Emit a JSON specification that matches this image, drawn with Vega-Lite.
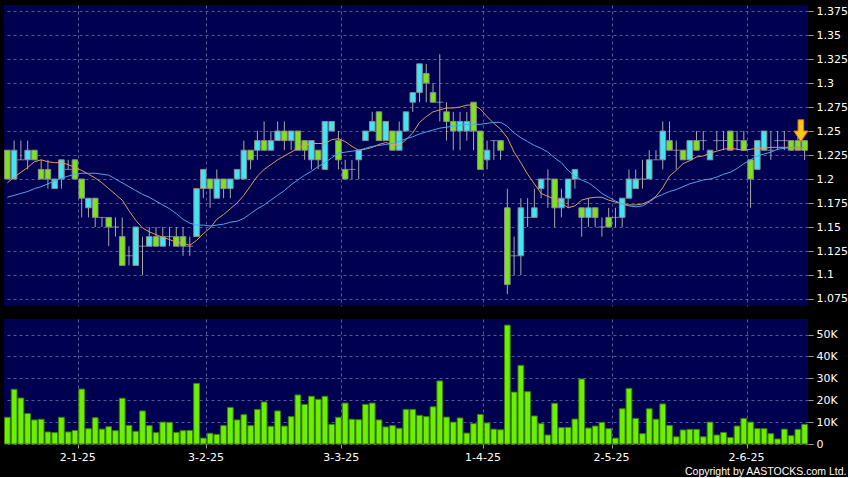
{
 "$schema": "https://vega.github.io/schema/vega-lite/v6.json",
 "background": "#000000",
 "padding": {"left": 4, "top": 5, "right": 0, "bottom": 0},
 "spacing": 13,
 "config": {
  "view": {"fill": "#000050", "stroke": null},
  "axis": {"domain": false, "labelColor": "#FFFFFF", "labelFont": "DejaVu Sans", "labelFontSize": 11, "labelOverlap": false, "tickColor": "#9A9A9A", "gridColor": "#5A5A96", "gridDash": [3, 3], "gridWidth": 1}
 },
 "data": {"values": [
  {"d":"13-12-24","o":1.23,"h":1.23,"l":1.20,"c":1.20,"v":12200,"m1":1.196,"m2":1.181},
  {"d":"16-12-24","o":1.20,"h":1.24,"l":1.20,"c":1.23,"v":25000,"m1":1.202,"m2":1.183},
  {"d":"17-12-24","o":1.22,"h":1.24,"l":1.22,"c":1.22,"v":21000,"m1":1.207,"m2":1.185},
  {"d":"18-12-24","o":1.22,"h":1.24,"l":1.21,"c":1.23,"v":13900,"m1":1.212,"m2":1.187},
  {"d":"19-12-24","o":1.23,"h":1.23,"l":1.22,"c":1.22,"v":11000,"m1":1.218,"m2":1.190},
  {"d":"20-12-24","o":1.21,"h":1.22,"l":1.20,"c":1.20,"v":11300,"m1":1.220,"m2":1.192},
  {"d":"23-12-24","o":1.21,"h":1.22,"l":1.19,"c":1.20,"v":5500,"m1":1.218,"m2":1.195},
  {"d":"24-12-24","o":1.19,"h":1.20,"l":1.19,"c":1.20,"v":5200,"m1":1.217,"m2":1.198},
  {"d":"27-12-24","o":1.20,"h":1.22,"l":1.19,"c":1.22,"v":12200,"m1":1.217,"m2":1.201},
  {"d":"30-12-24","o":1.21,"h":1.22,"l":1.21,"c":1.21,"v":5500,"m1":1.215,"m2":1.203},
  {"d":"31-12-24","o":1.22,"h":1.22,"l":1.20,"c":1.20,"v":6200,"m1":1.212,"m2":1.205},
  {"d":"2-1-25","o":1.20,"h":1.20,"l":1.16,"c":1.18,"v":25100,"m1":1.209,"m2":1.206},
  {"d":"3-1-25","o":1.17,"h":1.18,"l":1.16,"c":1.18,"v":7000,"m1":1.205,"m2":1.206},
  {"d":"6-1-25","o":1.18,"h":1.18,"l":1.15,"c":1.16,"v":12000,"m1":1.201,"m2":1.206},
  {"d":"7-1-25","o":1.16,"h":1.16,"l":1.15,"c":1.16,"v":6800,"m1":1.196,"m2":1.205},
  {"d":"8-1-25","o":1.16,"h":1.16,"l":1.13,"c":1.15,"v":7900,"m1":1.190,"m2":1.204},
  {"d":"9-1-25","o":1.15,"h":1.16,"l":1.14,"c":1.15,"v":6100,"m1":1.184,"m2":1.200},
  {"d":"10-1-25","o":1.14,"h":1.16,"l":1.11,"c":1.11,"v":20900,"m1":1.178,"m2":1.196},
  {"d":"13-1-25","o":1.12,"h":1.13,"l":1.11,"c":1.12,"v":8500,"m1":1.167,"m2":1.192},
  {"d":"14-1-25","o":1.11,"h":1.15,"l":1.11,"c":1.15,"v":5800,"m1":1.157,"m2":1.188},
  {"d":"15-1-25","o":1.13,"h":1.14,"l":1.10,"c":1.13,"v":15100,"m1":1.149,"m2":1.184},
  {"d":"16-1-25","o":1.13,"h":1.15,"l":1.13,"c":1.14,"v":8400,"m1":1.145,"m2":1.181},
  {"d":"17-1-25","o":1.14,"h":1.15,"l":1.13,"c":1.13,"v":5200,"m1":1.142,"m2":1.177},
  {"d":"20-1-25","o":1.13,"h":1.15,"l":1.13,"c":1.14,"v":10000,"m1":1.139,"m2":1.173},
  {"d":"21-1-25","o":1.14,"h":1.15,"l":1.13,"c":1.14,"v":9900,"m1":1.137,"m2":1.169},
  {"d":"22-1-25","o":1.14,"h":1.15,"l":1.13,"c":1.13,"v":5300,"m1":1.134,"m2":1.164},
  {"d":"23-1-25","o":1.14,"h":1.15,"l":1.12,"c":1.13,"v":6100,"m1":1.133,"m2":1.158},
  {"d":"24-1-25","o":1.13,"h":1.14,"l":1.12,"c":1.13,"v":6200,"m1":1.131,"m2":1.154},
  {"d":"27-1-25","o":1.14,"h":1.19,"l":1.14,"c":1.19,"v":27700,"m1":1.136,"m2":1.152},
  {"d":"28-1-25","o":1.19,"h":1.21,"l":1.18,"c":1.21,"v":2700,"m1":1.143,"m2":1.152},
  {"d":"3-2-25","o":1.20,"h":1.20,"l":1.17,"c":1.19,"v":4900,"m1":1.149,"m2":1.151},
  {"d":"4-2-25","o":1.18,"h":1.21,"l":1.18,"c":1.20,"v":4400,"m1":1.158,"m2":1.152},
  {"d":"5-2-25","o":1.20,"h":1.20,"l":1.18,"c":1.19,"v":8400,"m1":1.163,"m2":1.153},
  {"d":"6-2-25","o":1.19,"h":1.20,"l":1.18,"c":1.20,"v":16700,"m1":1.169,"m2":1.155},
  {"d":"7-2-25","o":1.20,"h":1.21,"l":1.20,"c":1.21,"v":11000,"m1":1.175,"m2":1.156},
  {"d":"10-2-25","o":1.20,"h":1.24,"l":1.20,"c":1.23,"v":13400,"m1":1.183,"m2":1.159},
  {"d":"11-2-25","o":1.23,"h":1.23,"l":1.21,"c":1.22,"v":8400,"m1":1.193,"m2":1.164},
  {"d":"12-2-25","o":1.23,"h":1.25,"l":1.22,"c":1.24,"v":15800,"m1":1.203,"m2":1.169},
  {"d":"13-2-25","o":1.24,"h":1.26,"l":1.23,"c":1.23,"v":19200,"m1":1.210,"m2":1.173},
  {"d":"14-2-25","o":1.23,"h":1.25,"l":1.23,"c":1.24,"v":8100,"m1":1.215,"m2":1.178},
  {"d":"17-2-25","o":1.24,"h":1.26,"l":1.24,"c":1.25,"v":15100,"m1":1.220,"m2":1.183},
  {"d":"18-2-25","o":1.25,"h":1.26,"l":1.23,"c":1.24,"v":8200,"m1":1.224,"m2":1.188},
  {"d":"19-2-25","o":1.24,"h":1.25,"l":1.23,"c":1.25,"v":12500,"m1":1.228,"m2":1.194},
  {"d":"20-2-25","o":1.25,"h":1.25,"l":1.23,"c":1.23,"v":22400,"m1":1.232,"m2":1.199},
  {"d":"21-2-25","o":1.24,"h":1.24,"l":1.22,"c":1.23,"v":18100,"m1":1.235,"m2":1.204},
  {"d":"24-2-25","o":1.22,"h":1.24,"l":1.21,"c":1.24,"v":21800,"m1":1.237,"m2":1.208},
  {"d":"25-2-25","o":1.23,"h":1.23,"l":1.21,"c":1.22,"v":20400,"m1":1.237,"m2":1.213},
  {"d":"26-2-25","o":1.21,"h":1.26,"l":1.21,"c":1.26,"v":21800,"m1":1.237,"m2":1.217},
  {"d":"27-2-25","o":1.25,"h":1.26,"l":1.25,"c":1.26,"v":9000,"m1":1.241,"m2":1.222},
  {"d":"28-2-25","o":1.24,"h":1.25,"l":1.21,"c":1.22,"v":12200,"m1":1.242,"m2":1.227},
  {"d":"3-3-25","o":1.21,"h":1.22,"l":1.20,"c":1.20,"v":18700,"m1":1.239,"m2":1.228},
  {"d":"4-3-25","o":1.21,"h":1.22,"l":1.20,"c":1.21,"v":11300,"m1":1.234,"m2":1.229},
  {"d":"5-3-25","o":1.22,"h":1.23,"l":1.20,"c":1.23,"v":11100,"m1":1.230,"m2":1.230},
  {"d":"6-3-25","o":1.24,"h":1.25,"l":1.24,"c":1.25,"v":18100,"m1":1.231,"m2":1.232},
  {"d":"7-3-25","o":1.25,"h":1.27,"l":1.25,"c":1.26,"v":18700,"m1":1.233,"m2":1.234},
  {"d":"10-3-25","o":1.27,"h":1.27,"l":1.24,"c":1.24,"v":11000,"m1":1.236,"m2":1.235},
  {"d":"11-3-25","o":1.24,"h":1.26,"l":1.24,"c":1.26,"v":7800,"m1":1.238,"m2":1.236},
  {"d":"12-3-25","o":1.25,"h":1.25,"l":1.23,"c":1.23,"v":8400,"m1":1.236,"m2":1.237},
  {"d":"13-3-25","o":1.23,"h":1.26,"l":1.23,"c":1.25,"v":7200,"m1":1.235,"m2":1.239},
  {"d":"14-3-25","o":1.25,"h":1.27,"l":1.25,"c":1.27,"v":15800,"m1":1.241,"m2":1.242},
  {"d":"17-3-25","o":1.28,"h":1.29,"l":1.27,"c":1.29,"v":15800,"m1":1.248,"m2":1.244},
  {"d":"18-3-25","o":1.29,"h":1.32,"l":1.28,"c":1.32,"v":13100,"m1":1.259,"m2":1.247},
  {"d":"19-3-25","o":1.31,"h":1.32,"l":1.28,"c":1.30,"v":12500,"m1":1.265,"m2":1.249},
  {"d":"20-3-25","o":1.29,"h":1.30,"l":1.28,"c":1.28,"v":17000,"m1":1.270,"m2":1.251},
  {"d":"21-3-25","o":1.28,"h":1.33,"l":1.26,"c":1.28,"v":28800,"m1":1.272,"m2":1.253},
  {"d":"24-3-25","o":1.27,"h":1.28,"l":1.24,"c":1.26,"v":12300,"m1":1.274,"m2":1.254},
  {"d":"25-3-25","o":1.26,"h":1.27,"l":1.23,"c":1.25,"v":10000,"m1":1.274,"m2":1.255},
  {"d":"26-3-25","o":1.25,"h":1.27,"l":1.23,"c":1.26,"v":11900,"m1":1.275,"m2":1.256},
  {"d":"27-3-25","o":1.25,"h":1.27,"l":1.24,"c":1.26,"v":5000,"m1":1.277,"m2":1.257},
  {"d":"28-3-25","o":1.28,"h":1.28,"l":1.23,"c":1.25,"v":9300,"m1":1.277,"m2":1.257},
  {"d":"31-3-25","o":1.25,"h":1.25,"l":1.21,"c":1.21,"v":13500,"m1":1.273,"m2":1.257},
  {"d":"1-4-25","o":1.22,"h":1.24,"l":1.21,"c":1.23,"v":9600,"m1":1.265,"m2":1.258},
  {"d":"2-4-25","o":1.24,"h":1.24,"l":1.22,"c":1.24,"v":6800,"m1":1.258,"m2":1.259},
  {"d":"3-4-25","o":1.24,"h":1.24,"l":1.22,"c":1.23,"v":6500,"m1":1.252,"m2":1.259},
  {"d":"7-4-25","o":1.17,"h":1.19,"l":1.08,"c":1.09,"v":54300,"m1":1.243,"m2":1.255},
  {"d":"8-4-25","o":1.12,"h":1.14,"l":1.10,"c":1.12,"v":23700,"m1":1.228,"m2":1.248},
  {"d":"9-4-25","o":1.12,"h":1.18,"l":1.10,"c":1.17,"v":35900,"m1":1.217,"m2":1.243},
  {"d":"10-4-25","o":1.16,"h":1.18,"l":1.15,"c":1.16,"v":23900,"m1":1.205,"m2":1.239},
  {"d":"11-4-25","o":1.16,"h":1.19,"l":1.16,"c":1.17,"v":12800,"m1":1.195,"m2":1.235},
  {"d":"14-4-25","o":1.19,"h":1.20,"l":1.18,"c":1.20,"v":9300,"m1":1.185,"m2":1.232},
  {"d":"15-4-25","o":1.20,"h":1.21,"l":1.17,"c":1.20,"v":4100,"m1":1.182,"m2":1.228},
  {"d":"16-4-25","o":1.20,"h":1.20,"l":1.15,"c":1.17,"v":18600,"m1":1.179,"m2":1.222},
  {"d":"17-4-25","o":1.17,"h":1.19,"l":1.16,"c":1.18,"v":7500,"m1":1.175,"m2":1.217},
  {"d":"22-4-25","o":1.18,"h":1.20,"l":1.17,"c":1.20,"v":7600,"m1":1.170,"m2":1.209},
  {"d":"23-4-25","o":1.20,"h":1.21,"l":1.19,"c":1.21,"v":11400,"m1":1.172,"m2":1.203},
  {"d":"24-4-25","o":1.17,"h":1.17,"l":1.14,"c":1.16,"v":29700,"m1":1.178,"m2":1.199},
  {"d":"25-4-25","o":1.16,"h":1.18,"l":1.15,"c":1.17,"v":7300,"m1":1.180,"m2":1.196},
  {"d":"28-4-25","o":1.17,"h":1.17,"l":1.15,"c":1.16,"v":8200,"m1":1.181,"m2":1.191},
  {"d":"29-4-25","o":1.15,"h":1.16,"l":1.14,"c":1.15,"v":9900,"m1":1.181,"m2":1.185},
  {"d":"30-4-25","o":1.16,"h":1.17,"l":1.15,"c":1.15,"v":7000,"m1":1.178,"m2":1.181},
  {"d":"2-5-25","o":1.16,"h":1.17,"l":1.15,"c":1.16,"v":2700,"m1":1.176,"m2":1.177},
  {"d":"6-5-25","o":1.16,"h":1.18,"l":1.15,"c":1.18,"v":16100,"m1":1.174,"m2":1.174},
  {"d":"7-5-25","o":1.18,"h":1.21,"l":1.18,"c":1.20,"v":25400,"m1":1.173,"m2":1.172},
  {"d":"8-5-25","o":1.19,"h":1.21,"l":1.19,"c":1.20,"v":11700,"m1":1.173,"m2":1.171},
  {"d":"9-5-25","o":1.20,"h":1.22,"l":1.19,"c":1.20,"v":4700,"m1":1.174,"m2":1.172},
  {"d":"12-5-25","o":1.20,"h":1.23,"l":1.20,"c":1.22,"v":16100,"m1":1.177,"m2":1.176},
  {"d":"13-5-25","o":1.22,"h":1.23,"l":1.22,"c":1.22,"v":11300,"m1":1.182,"m2":1.181},
  {"d":"14-5-25","o":1.22,"h":1.26,"l":1.21,"c":1.25,"v":18300,"m1":1.191,"m2":1.184},
  {"d":"15-5-25","o":1.24,"h":1.26,"l":1.23,"c":1.23,"v":8500,"m1":1.203,"m2":1.187},
  {"d":"16-5-25","o":1.23,"h":1.24,"l":1.21,"c":1.23,"v":3300,"m1":1.209,"m2":1.189},
  {"d":"19-5-25","o":1.23,"h":1.23,"l":1.22,"c":1.22,"v":6400,"m1":1.216,"m2":1.192},
  {"d":"20-5-25","o":1.22,"h":1.24,"l":1.22,"c":1.24,"v":6700,"m1":1.219,"m2":1.195},
  {"d":"21-5-25","o":1.24,"h":1.25,"l":1.23,"c":1.23,"v":6700,"m1":1.223,"m2":1.197},
  {"d":"22-5-25","o":1.24,"h":1.25,"l":1.23,"c":1.24,"v":3300,"m1":1.224,"m2":1.199},
  {"d":"23-5-25","o":1.22,"h":1.23,"l":1.22,"c":1.23,"v":10000,"m1":1.227,"m2":1.200},
  {"d":"26-5-25","o":1.24,"h":1.25,"l":1.23,"c":1.24,"v":4100,"m1":1.229,"m2":1.202},
  {"d":"27-5-25","o":1.24,"h":1.25,"l":1.23,"c":1.24,"v":5300,"m1":1.231,"m2":1.205},
  {"d":"28-5-25","o":1.25,"h":1.25,"l":1.23,"c":1.23,"v":3000,"m1":1.232,"m2":1.207},
  {"d":"29-5-25","o":1.24,"h":1.25,"l":1.23,"c":1.24,"v":8200,"m1":1.231,"m2":1.211},
  {"d":"30-5-25","o":1.24,"h":1.25,"l":1.23,"c":1.23,"v":11700,"m1":1.230,"m2":1.216},
  {"d":"2-6-25","o":1.22,"h":1.22,"l":1.17,"c":1.20,"v":10000,"m1":1.231,"m2":1.220},
  {"d":"3-6-25","o":1.21,"h":1.24,"l":1.21,"c":1.24,"v":7000,"m1":1.232,"m2":1.224},
  {"d":"4-6-25","o":1.23,"h":1.25,"l":1.23,"c":1.25,"v":7000,"m1":1.232,"m2":1.226},
  {"d":"5-6-25","o":1.23,"h":1.25,"l":1.22,"c":1.23,"v":4700,"m1":1.233,"m2":1.228},
  {"d":"6-6-25","o":1.24,"h":1.25,"l":1.23,"c":1.24,"v":2300,"m1":1.233,"m2":1.231},
  {"d":"9-6-25","o":1.24,"h":1.25,"l":1.23,"c":1.24,"v":6800,"m1":1.233,"m2":1.232},
  {"d":"10-6-25","o":1.24,"h":1.24,"l":1.23,"c":1.23,"v":3800,"m1":1.233,"m2":1.233},
  {"d":"11-6-25","o":1.24,"h":1.25,"l":1.23,"c":1.23,"v":6700,"m1":1.232,"m2":1.233},
  {"d":"12-6-25","o":1.24,"h":1.24,"l":1.22,"c":1.23,"v":9000,"m1":1.230,"m2":1.233}
 ]},
 "vconcat": [
  {
   "width": 804,
   "height": 301,
   "encoding": {
    "x": {"field": "d", "type": "ordinal", "sort": null, "scale": {"paddingInner": 0, "paddingOuter": 0},
     "axis": {"values": ["2-1-25", "3-2-25", "3-3-25", "1-4-25", "2-5-25", "2-6-25"], "bandPosition": 0, "labels": false, "ticks": false, "grid": true, "title": null}}
   },
   "layer": [
    {
     "mark": {"type": "rule", "color": "#A8A8A8", "strokeWidth": 1},
     "encoding": {
      "y": {"field": "l", "type": "quantitative", "scale": {"domain": [1.0677, 1.3813], "nice": false, "zero": false},
       "axis": {"orient": "right", "title": null, "values": [1.075, 1.1, 1.125, 1.15, 1.175, 1.2, 1.225, 1.25, 1.275, 1.3, 1.325, 1.35, 1.375], "tickCount": 30, "labelExpr": "toString(round(datum.value * 1000) / 1000)", "grid": true, "tickSize": 5, "labelPadding": 3, "labelOverlap": false, "labelBound": false, "labelFlush": false}},
      "y2": {"field": "h"}
     }
    },
    {
     "transform": [{"filter": "datum.o != datum.c"}],
     "mark": {"type": "bar", "width": {"band": 0.82}, "stroke": "#8C8C8C", "strokeWidth": 1},
     "encoding": {
      "y": {"field": "o", "type": "quantitative"},
      "y2": {"field": "c"},
      "fill": {"condition": {"test": "datum.c > datum.o", "value": "#3FE6F4"}, "value": "#7CE41E"}
     }
    },
    {
     "transform": [{"filter": "datum.o == datum.c"}],
     "mark": {"type": "tick", "color": "#B0B0B0", "thickness": 1, "size": 7},
     "encoding": {"y": {"field": "o", "type": "quantitative"}}
    },
    {
     "mark": {"type": "line", "color": "#E39A5C", "strokeWidth": 1},
     "encoding": {"y": {"field": "m1", "type": "quantitative"}}
    },
    {
     "mark": {"type": "line", "color": "#4EA6EA", "strokeWidth": 1},
     "encoding": {"y": {"field": "m2", "type": "quantitative"}}
    },
    {
     "transform": [{"filter": "datum.d == '11-6-25'"}],
     "mark": {"type": "point", "shape": "M-0.4,-1.6L0.4,-1.6L0.4,0L1,0L0,1.5L-1,0L-0.4,0Z", "size": 196, "filled": true, "fill": "#FFC61A", "stroke": "#D98200", "strokeWidth": 1, "opacity": 1, "xOffset": 3},
     "encoding": {"y": {"field": "h", "type": "quantitative"}}
    }
   ]
  },
  {
   "width": 804,
   "height": 125,
   "mark": {"type": "bar", "width": {"band": 0.85}, "fill": "#6CF000", "stroke": "#3B7F00", "strokeWidth": 1},
   "encoding": {
    "x": {"field": "d", "type": "ordinal", "sort": null, "scale": {"paddingInner": 0, "paddingOuter": 0},
     "axis": {"values": ["2-1-25", "3-2-25", "3-3-25", "1-4-25", "2-5-25", "2-6-25"], "bandPosition": 0, "grid": true, "ticks": true, "tickSize": 4, "labelPadding": 3, "labelOffset": -4, "labelAngle": 0, "labelOverlap": false,
      "title": "Copyright by AASTOCKS.com Ltd.", "titleColor": "#FFFFFF", "titleFont": "Liberation Sans", "titleFontSize": 10.5, "titleFontWeight": "normal", "titleAlign": "right", "titleBaseline": "alphabetic", "titleAnchor": "end", "titleX": 842, "titleY": 30}},
    "y": {"field": "v", "type": "quantitative", "scale": {"domain": [0, 57100], "nice": false},
     "axis": {"orient": "right", "title": null, "values": [0, 10000, 20000, 30000, 40000, 50000], "tickCount": 10, "labelExpr": "datum.value == 0 ? '0' : (datum.value / 1000) + 'K'", "grid": true, "tickSize": 5, "labelPadding": 3, "labelOverlap": false}}
   }
  }
 ]
}
